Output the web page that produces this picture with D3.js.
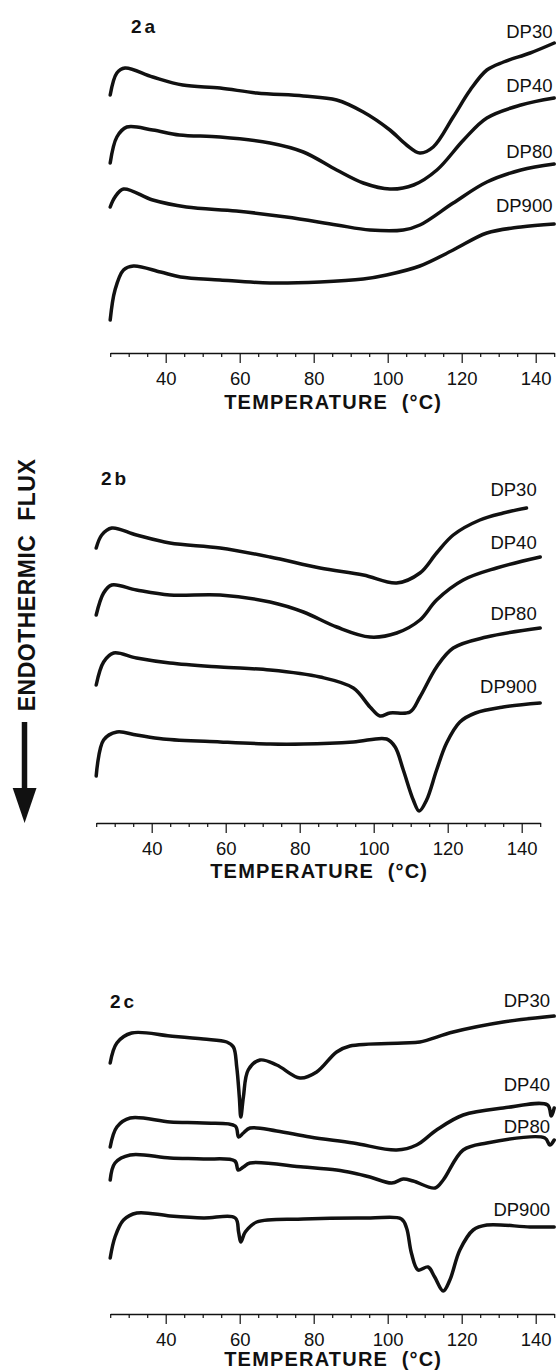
<!DOCTYPE html>
<html>
<head>
<meta charset="utf-8">
<script src="https://cdn.jsdelivr.net/npm/d3@7"></script>
<style>
  html, body { margin: 0; padding: 0; background: #fff; }
  svg text { font-family: "Liberation Sans", Arial, Helvetica, sans-serif; fill: #111; }
</style>
</head>
<body>
<svg id="chart"></svg>
<script>
// temperature axis (°C)
const minorTicks = [25, 30, 35, 40, 45, 50, 55, 60, 65, 70, 75, 80, 85, 90, 95, 100, 105, 110, 115, 120, 125, 130, 135, 140, 145];
const majorTicks = [40, 60, 80, 100, 120, 140];
const seriesNames = ["DP30", "DP40", "DP80", "DP900"];
const panelNames = ["2a", "2b", "2c"];

// heat flux, arbitrary units, [temperature, flux]
const a_dp30 = [[25,258],[26.8,280],[29,285],[36.5,276],[44.6,268],[54.7,265],[64.6,260],[77.2,257],[86.2,253],[93.4,241],[100.6,223],[105.1,208],[108.7,200],[112.3,206],[117.7,236],[122.3,263],[126.8,283],[131.3,291],[138.5,300],[145,310]];
const a_dp40 = [[25,190],[26.8,216],[29.5,226],[36.5,223],[43.7,218],[54.7,216],[68.2,210],[77.2,201],[86.2,183],[93.4,170],[100.6,164],[107,168],[113.3,183],[120.5,213],[126.8,235],[136,248],[145,255]];
const a_dp80 = [[25,146],[26.3,156],[28.6,164],[36.5,153],[45.6,146],[59.1,142],[72.6,136],[86.2,128],[95.2,123],[104.2,123],[108.7,128],[117.7,150],[126.8,171],[136,183],[145,189]];
const a_dp900 = [[25,33],[26.3,63],[28.6,83],[31.3,87],[38.6,81],[44,76],[54.7,73],[68.2,70],[81.7,71],[93.4,74],[99.7,78],[108.7,87],[117.7,103],[126.8,120],[136,126],[145,129]];

const b_dp30 = [[25,275],[26.5,288],[29.2,295],[35.9,288],[44.9,280],[58.5,275],[72,266],[85.5,255],[97.2,248],[106.2,240],[112.5,250],[117,270],[121.5,288],[128.7,303],[135,310],[141.3,315]];
const b_dp40 = [[25,208],[27,230],[29.2,238],[35.9,233],[44.9,228],[58.5,228],[72,221],[81,211],[90,196],[99,186],[106.2,190],[112.5,203],[117,223],[124.2,243],[133.2,255],[145,266]];
const b_dp80 = [[25,138],[27,161],[29.7,170],[35.9,165],[44.9,160],[58.5,156],[72,153],[85.5,146],[94.5,135],[99,116],[101.7,107],[104.4,110],[109.8,111],[112.5,126],[117,156],[121.5,175],[130.5,186],[145,195]];
const b_dp900 = [[25,47],[27,83],[30.6,91],[35.9,88],[43.1,84],[58.5,81],[72,79],[81,79],[94.5,81],[103.5,84],[105.8,76],[108,53],[110.7,23],[112.3,12],[114.3,23],[117,53],[119.7,80],[123.3,101],[127.5,110],[135,116],[145,120]];

const c_dp30 = [[25,251],[26.8,271],[30.8,281],[41.2,278],[50.2,275],[56.5,272],[58.3,267],[59.2,247],[59.9,217],[60.3,197],[61,217],[62.3,244],[65.5,254],[70,249],[76.3,236],[80.8,242],[86.2,262],[89.8,268],[104.2,271],[108.7,272],[117.7,282],[131.2,292],[145,298]];
const c_dp40 = [[25,167],[26.8,187],[30.4,196],[41.2,192],[50.2,191],[58.8,188],[59.7,177],[61,181],[62.8,186],[70,183],[79,177],[90.7,171],[102.4,164],[107.8,169],[113.2,184],[120.4,199],[131.2,206],[143.2,209],[144.2,198],[145,206]];
const c_dp80 = [[25,134],[26.3,151],[30.4,159],[41.2,156],[50.2,155],[58.7,153],[59.6,144],[61,147],[62.8,151],[77.2,147],[86.2,144],[90.7,141],[95.2,137],[101.1,131],[104.2,135],[106.9,133],[112.8,126],[115,134],[120.4,164],[126.8,171],[142.5,176],[143.8,169],[145,174]];
const c_dp900 = [[25,56],[26.3,77],[28.6,94],[32.2,101],[41.2,98],[50.2,96],[58.8,96],[59.7,82],[60.3,72],[61.5,82],[64.6,92],[77.2,95],[95.2,96],[103.7,95],[105.1,86],[106.4,61],[108.2,44],[110.9,47],[112.7,37],[115,23],[116.8,34],[119.5,64],[123.1,84],[126.8,89],[138.5,87],[145,87]];

const panelData = [
  [a_dp30, a_dp40, a_dp80, a_dp900],
  [b_dp30, b_dp40, b_dp80, b_dp900],
  [c_dp30, c_dp40, c_dp80, c_dp900],
];

// layout
const W = 556, H = 1371;
const panelLeft = [110.2, 96.2, 110.2];
const axisY = [353, 823, 1314];
const titleOffset = [56, 55, 52];
const plotW = 444;
const panelLabelPos = [[131, 33], [101, 485], [110, 1008]];
const seriesLabelRight = [552.5, 536.7, 550];
const seriesLabelY = [[38, 92, 158, 212], [496, 549, 620, 693], [1007, 1091, 1133, 1216]];

const svg = d3.select("#chart").attr("width", W).attr("height", H);

panelNames.forEach((name, p) => {
  const x = d3.scaleLinear().domain([25, 145]).range([panelLeft[p], panelLeft[p] + plotW]);
  const y = d3.scaleLinear().domain([0, 400]).range([axisY[p], axisY[p] - 400]);
  const g = svg.append("g").attr("class", "panel");

  // axis
  const axis = d3.axisBottom(x)
    .tickValues(minorTicks)
    .tickSize(4)
    .tickSizeOuter(0)
    .tickFormat((d) => (majorTicks.includes(d) ? d : ""));
  const ax = g.append("g")
    .attr("transform", `translate(0,${axisY[p]})`)
    .call(axis);
  ax.select(".domain").attr("stroke", "#111").attr("stroke-width", 1.5);
  ax.selectAll(".tick line").attr("stroke", "#111").attr("stroke-width", 1.2)
    .attr("y2", (d) => (majorTicks.includes(d) ? 10 : 4));
  ax.selectAll(".tick text")
    .attr("y", 32).attr("dy", 0)
    .style("font-size", "18.5px")
    .style("font-family", '"Liberation Sans", Arial, sans-serif')
    .attr("fill", "#111");

  g.append("text")
    .attr("x", x(85) + 1)
    .attr("y", axisY[p] + titleOffset[p])
    .attr("text-anchor", "middle")
    .attr("xml:space", "preserve")
    .style("font-size", "20px")
    .style("font-weight", "bold")
    .style("letter-spacing", "1.2px")
    .text("TEMPERATURE  (°C)");

  // panel label
  g.append("text")
    .attr("x", panelLabelPos[p][0])
    .attr("y", panelLabelPos[p][1])
    .style("font-size", "19px")
    .style("font-weight", "bold")
    .style("letter-spacing", "3px")
    .text(name);

  const line = d3.line()
    .x((d) => x(d[0]))
    .y((d) => y(d[1]))
    .curve(d3.curveCatmullRom.alpha(0.5));

  g.selectAll(".trace")
    .data(panelData[p])
    .join("path")
    .attr("class", "trace")
    .attr("fill", "none")
    .attr("stroke", "#111")
    .attr("stroke-width", 3.5)
    .attr("stroke-linejoin", "round")
    .attr("stroke-linecap", "round")
    .attr("d", line);

  g.selectAll(".slabel")
    .data(seriesNames)
    .join("text")
    .attr("class", "slabel")
    .attr("x", seriesLabelRight[p])
    .attr("y", (d, i) => seriesLabelY[p][i])
    .attr("text-anchor", "end")
    .style("font-size", "18.5px")
    .text((d) => d);
});

// y label + arrow
svg.append("text")
  .attr("transform", "translate(35,585) rotate(-90)")
  .attr("text-anchor", "middle")
  .attr("xml:space", "preserve")
  .style("font-size", "23px")
  .style("font-weight", "bold")
  .style("letter-spacing", "0.5px")
  .text("ENDOTHERMIC  FLUX");

svg.append("line")
  .attr("x1", 24.5).attr("x2", 24.5)
  .attr("y1", 722).attr("y2", 792)
  .attr("stroke", "#111").attr("stroke-width", 5.5);
svg.append("path")
  .attr("d", "M12.7,788 L36.5,788 L24.6,823 Z")
  .attr("fill", "#111");
</script>
</body>
</html>
